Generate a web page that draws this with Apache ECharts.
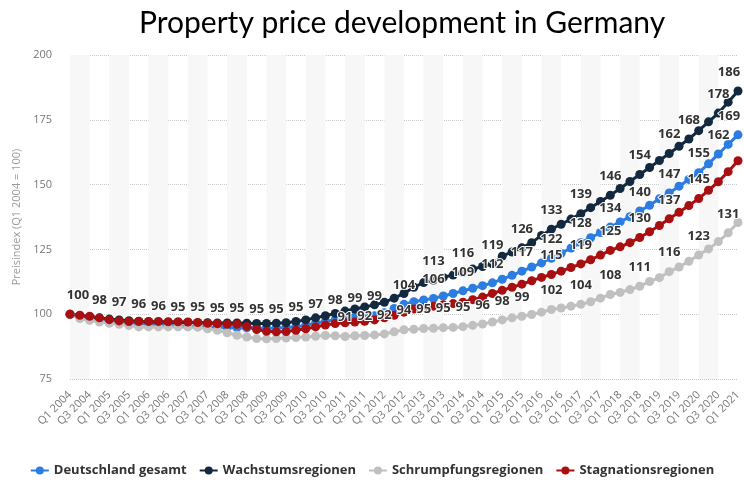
<!DOCTYPE html>
<html>
<head>
    <meta charset="utf-8"/>
    <title>Property price development in Germany</title>
    <script src="https://cdn.jsdelivr.net/npm/echarts@6/dist/echarts.min.js"></script>
    <style>
        html, body { margin: 0; padding: 0; background: #fff; }
        #main { width: 744px; height: 482px; }
    </style>
</head>
<body>
<div id="main"></div>
<script>
    // Quartale Q1 2004 .. Q1 2021
    var quarters = [
        'Q1 2004','Q2 2004','Q3 2004','Q4 2004','Q1 2005','Q2 2005','Q3 2005','Q4 2005',
        'Q1 2006','Q2 2006','Q3 2006','Q4 2006','Q1 2007','Q2 2007','Q3 2007','Q4 2007',
        'Q1 2008','Q2 2008','Q3 2008','Q4 2008','Q1 2009','Q2 2009','Q3 2009','Q4 2009',
        'Q1 2010','Q2 2010','Q3 2010','Q4 2010','Q1 2011','Q2 2011','Q3 2011','Q4 2011',
        'Q1 2012','Q2 2012','Q3 2012','Q4 2012','Q1 2013','Q2 2013','Q3 2013','Q4 2013',
        'Q1 2014','Q2 2014','Q3 2014','Q4 2014','Q1 2015','Q2 2015','Q3 2015','Q4 2015',
        'Q1 2016','Q2 2016','Q3 2016','Q4 2016','Q1 2017','Q2 2017','Q3 2017','Q4 2017',
        'Q1 2018','Q2 2018','Q3 2018','Q4 2018','Q1 2019','Q2 2019','Q3 2019','Q4 2019',
        'Q1 2020','Q2 2020','Q3 2020','Q4 2020','Q1 2021'
    ];

    var gesamt = [
        100, 99.3, 98.7, 98.2, 97.6, 97.2, 96.8, 96.4, 96.1, 95.9, 95.7, 95.4,
        95.3, 95.2, 95.1, 95.0, 94.9, 94.8, 94.7, 94.6, 94.6, 94.7, 94.9, 95.2,
        95.7, 96.6, 97.2, 97.9, 98.4, 98.9, 99.2, 99.4, 100.6, 102.2, 103.8, 104.8,
        105.5, 106.1, 107.0, 108.0, 109.0, 110.0, 111.0, 112.1, 113.5, 115.0, 116.6, 118.2,
        119.8, 121.6, 123.5, 125.5, 127.6, 129.5, 131.5, 133.6, 135.6, 137.6, 139.8, 142.0,
        144.5, 146.8, 149.4, 152.0, 154.6, 158.0, 161.8, 165.5, 169.2
    ];
    var wachstum = [
        100, 99.4, 98.9, 98.5, 98.1, 97.8, 97.5, 97.3, 97.1, 97.0, 96.9, 96.8,
        96.8, 96.7, 96.7, 96.6, 96.6, 96.6, 96.5, 96.4, 96.4, 96.5, 96.7, 97.2,
        97.8, 98.6, 99.4, 100.3, 101.2, 102.0, 102.8, 103.6, 104.6, 106.2, 108.0, 110.4,
        112.2, 113.2, 114.2, 115.1, 116.2, 117.4, 118.4, 119.4, 122.4, 124.0, 125.6, 127.6,
        130.4, 132.8, 134.7, 136.7, 138.8, 141.1, 143.5, 145.9, 148.5, 151.2, 153.9, 156.6,
        159.3, 162.0, 164.8, 167.6, 170.8, 174.2, 177.6, 181.8, 186.1
    ];
    var schrumpfung = [
        100, 98.3, 97.6, 97.0, 96.5, 96.1, 95.6, 95.1, 95.1, 95.1, 95.1, 95.1,
        95.1, 95.0, 94.4, 93.8, 92.8, 91.9, 91.2, 90.6, 90.5, 90.6, 90.8, 91.0,
        91.2, 91.5, 91.8, 91.7, 91.4, 91.7, 91.8, 92.0, 92.4, 93.2, 94.0, 94.2,
        94.5, 94.6, 94.8, 94.9, 95.2, 95.7, 96.2, 97.0, 97.8, 98.6, 99.2, 99.9,
        100.8, 101.8, 102.4, 103.1, 103.8, 104.8, 106.2, 107.6, 108.4, 109.5, 110.8, 112.6,
        114.1, 116.4, 118.2, 120.4, 122.8, 125.2, 128.0, 131.4, 135.4
    ];
    var stagnation = [
        100, 99.6, 99.2, 98.6, 97.9, 97.4, 97.2, 97.2, 97.2, 97.2, 97.1, 97.1,
        97.0, 96.8, 96.5, 96.3, 96.1, 96.1, 95.3, 94.1, 93.4, 93.2, 93.3, 93.8,
        94.4, 95.1, 95.8, 96.4, 96.7, 97.0, 97.3, 97.8, 98.6, 99.6, 100.8, 102.0,
        102.6, 103.1, 103.6, 104.1, 104.6, 105.6, 106.6, 108.0, 109.2, 110.4, 111.6, 112.9,
        114.2, 115.3, 116.6, 118.0, 119.4, 121.0, 122.8, 124.6, 126.0, 127.6, 129.6, 131.8,
        134.2, 136.8, 139.3, 141.9, 144.6, 147.8, 151.1, 155.0, 159.2
    ];

    // welche Punkte eine Beschriftung bekommen (wie im Original sichtbar)
    var gesamtLabels = [0, 3, 5, 7, 9, 11, 13, 15, 17, 19, 21, 23, 25, 27, 29, 31, 34, 37, 40, 43, 46, 49, 52, 55, 58, 61, 64, 66, 68];
    var wachstumLabels = [37, 40, 43, 46, 49, 52, 55, 58, 61, 63, 66, 68];
    var schrumpfungLabels = [28, 30, 32, 34, 36, 38, 40, 42, 44, 46, 49, 52, 55, 58, 61, 64, 67];
    var stagnationLabels = [49, 52, 55, 58, 61, 64];

    function withLabels(values, idx) {
        var last = values.length - 1;
        return values.map(function (v, i) {
            var lbl = { show: idx.indexOf(i) >= 0 };
            // Randbeschriftungen nach innen schieben
            if (i === 0) lbl.offset = [8, 0];
            if (i === last) lbl.offset = [-9, 0];
            return { value: v, label: lbl };
        });
    }

    function makeSeries(name, color, values, idx) {
        return {
            name: name,
            type: 'line',
            data: withLabels(values, idx),
            symbol: 'circle',
            symbolSize: 9,
            showAllSymbol: true,
            color: color,
            lineStyle: { width: 3, color: color },
            itemStyle: { color: color },
            label: {
                position: 'top',
                distance: 8,
                color: '#333',
                fontSize: 13,
                fontWeight: 'bold',
                fontFamily: 'Open Sans',
                textBorderColor: '#fff',
                textBorderWidth: 2,
                formatter: function (p) { return Math.round(p.value); }
            },
            emphasis: { disabled: true },
            animation: false
        };
    }

    var myChart = echarts.init(document.getElementById('main'));
    var option = {
        animation: false,
        title: {
            text: 'Property price development in Germany',
            left: 134,
            top: 3,
            textStyle: { fontFamily: 'Lato', fontSize: 30, fontWeight: 'normal', color: '#000' }
        },
        legend: {
            bottom: 0,
            left: 'center',
            itemWidth: 18,
            itemHeight: 10,
            itemGap: 12,
            textStyle: { fontFamily: 'Open Sans', fontSize: 13, fontWeight: 'bold', color: '#333' },
            data: ['Deutschland gesamt', 'Wachstumsregionen', 'Schrumpfungsregionen', 'Stagnationsregionen']
        },
        grid: { left: 70, right: 3, top: 55, bottom: 103 },
        xAxis: {
            type: 'category',
            data: quarters,
            boundaryGap: false,
            axisLine: { show: false },
            axisTick: { show: false },
            axisLabel: {
                interval: 1,
                rotate: 45,
                margin: 14,
                fontSize: 11,
                fontFamily: 'Open Sans',
                color: '#777'
            },
            splitLine: { show: false },
            splitArea: {
                show: true,
                interval: 1,
                areaStyle: { color: ['#f7f7f7', 'rgba(255,255,255,0)'] }
            }
        },
        yAxis: {
            type: 'value',
            min: 75,
            max: 200,
            interval: 25,
            name: 'Preisindex (Q1 2004 = 100)',
            nameLocation: 'middle',
            nameGap: 47,
            nameTextStyle: { fontFamily: 'Open Sans', fontSize: 11, color: '#999' },
            axisLine: { show: false },
            axisTick: { show: false },
            axisLabel: { margin: 18, fontSize: 11, fontFamily: 'Open Sans', color: '#777' },
            splitLine: { lineStyle: { type: 'dotted', color: '#c8c8c8' } }
        },
        series: [
            makeSeries('Deutschland gesamt', '#2b7de1', gesamt, gesamtLabels),
            makeSeries('Wachstumsregionen', '#13293f', wachstum, wachstumLabels),
            makeSeries('Schrumpfungsregionen', '#c0c0c0', schrumpfung, schrumpfungLabels),
            makeSeries('Stagnationsregionen', '#a80f10', stagnation, stagnationLabels)
        ]
    };
    myChart.setOption(option);

    window.onresize = function () {
        myChart.resize();
    };
</script>
</body>
</html>
